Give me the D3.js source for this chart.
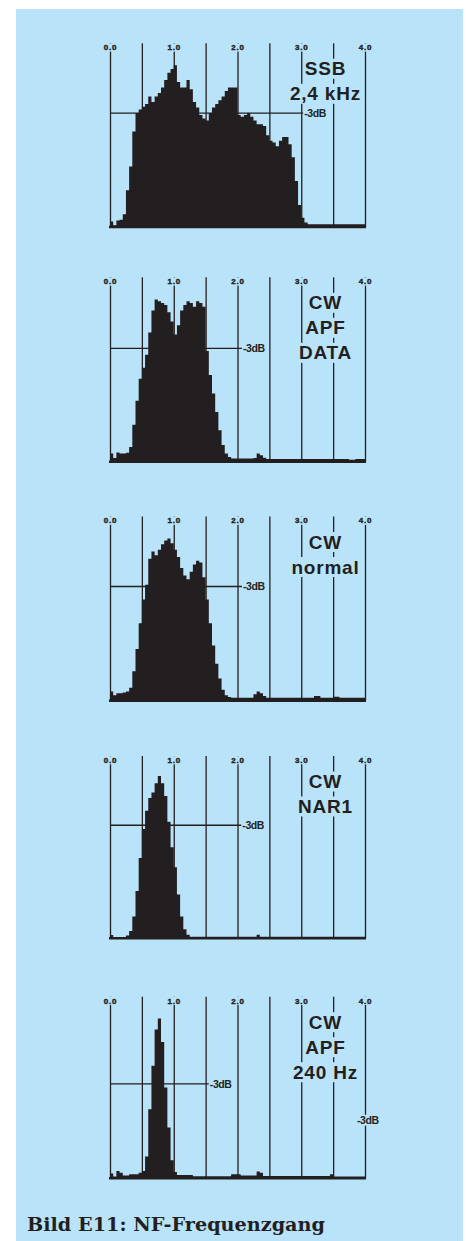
<!DOCTYPE html>
<html>
<head>
<meta charset="utf-8">
<script src="https://cdn.jsdelivr.net/npm/d3@7"></script>
<style>
  body { margin: 0; background: #ffffff; }
  svg { display: block; }
</style>
</head>
<body>
<svg id="chart"></svg>
<script>
// frequency axis (kHz), one grid line every 0.5 kHz, labels on the whole kHz
const gridFreqs = [0, 0.5, 1, 1.5, 2, 2.5, 3, 3.5, 4];
const tickLabels = ["0.0", "1.0", "2.0", "3.0", "4.0"];
const binWidth = 0.05; // kHz per step of the spectrum

// levels in % of plot height, one value per 0.05 kHz bin (0 .. 4 kHz)
const ssbLevels = [
  3, 1, 3.5, 4, 7, 20, 33, 52, 62, 64,
  65.5, 67, 71, 68, 71, 73, 76, 80, 84, 86,
  88, 79, 76, 76, 80, 75, 68, 65, 61, 59,
  58, 62, 65, 67, 69, 71, 74, 76, 76, 76,
  61, 60, 61, 62, 60, 58, 56, 56, 55, 50,
  47, 46, 44, 47, 49, 49, 45, 38, 25, 12,
  5, 2.5, 1.5, 1.5, 1.5, 1.5, 1.5, 1.5, 1.5, 1.5,
  1.5, 1.5, 1.5, 1.5, 1.5, 1.5, 1.5, 1.5, 1.5, 1.5
];
const cwApfDataLevels = [
  4.5, 2, 5, 4.5, 4.5, 4.8, 8, 20, 33, 45,
  51, 58, 70, 82, 88, 87, 86, 85, 81, 76,
  69, 74, 82, 85, 87, 86, 84, 87, 86, 84,
  60, 47, 37, 27, 17, 9, 4.5, 2.5, 1.8, 1.8,
  1.8, 1.8, 1.8, 1.8, 1.8, 2, 4.5, 3.5, 2.2, 1.5,
  1.5, 1.5, 1.5, 1.5, 1.5, 1.5, 1.5, 1.5, 1.5, 1.5,
  1.5, 1.5, 1.5, 1.5, 1.5, 1.5, 1.5, 1.5, 1.5, 1.5,
  1.5, 1.5, 1.5, 1.5, 1.5, 1, 1, 1.5, 1.5, 1.5
];
const cwNormalLevels = [
  5, 3, 4, 4, 4.5, 5, 7, 16, 28, 42,
  55, 63, 77, 81, 79, 82, 85, 87, 88, 85.5,
  82, 78, 72, 68, 66, 70, 74, 76, 75, 67,
  55, 42, 30, 20, 12, 6, 3, 2, 1.6, 1.6,
  1.6, 1.6, 1.6, 1.6, 1.6, 3.5, 5, 4, 2.5, 1.6,
  1.6, 1.6, 1.6, 1.6, 1.6, 1.6, 1.6, 1.6, 1.6, 1.6,
  1.6, 1.6, 1.6, 1.6, 2.5, 2.5, 1.6, 1.6, 1.6, 1.6,
  2.2, 2.2, 1.6, 1.6, 1.6, 1.6, 1.6, 1.6, 1.6, 1.6
];
const cwNar1Levels = [
  1.8, 0.6, 0.6, 0.6, 0.6, 1.5, 4, 12, 26, 44,
  60, 70, 77, 80, 85, 89, 85, 78, 64, 50,
  39, 24, 12, 5, 2, 0.9, 0.9, 0.9, 0.9, 0.9,
  0.9, 0.9, 0.9, 0.9, 0.9, 0.9, 0.9, 0.9, 0.9, 0.9,
  0.9, 0.9, 0.9, 0.9, 0.9, 0.9, 2, 0.9, 0.9, 0.9,
  0.9, 0.9, 0.9, 0.9, 0.9, 0.9, 0.9, 0.9, 0.9, 0.9,
  0.9, 0.9, 0.9, 0.9, 0.9, 0.9, 0.9, 0.9, 0.9, 0.9,
  0.9, 0.9, 0.9, 0.9, 0.9, 0.9, 0.9, 0.9, 0.9, 0.9
];
const cwApf240Levels = [
  2.7, 1, 4, 3, 1.5, 1.5, 2.2, 2.2, 2.2, 3,
  4, 12, 38, 62, 82, 88, 75, 50, 28, 10,
  3.5, 1.8, 1.8, 1.8, 1.8, 1.8, 1.1, 1.1, 1.1, 1.1,
  1.1, 1.1, 1.1, 1.1, 1.1, 1.1, 1.1, 1.1, 2.2, 2.2,
  2.2, 1.5, 1.5, 1.5, 1.5, 1.5, 3.7, 3, 1.3, 1.3,
  1.3, 1.3, 1.3, 1.3, 1.3, 1.3, 1.3, 1.3, 1.3, 1.3,
  1.3, 1.3, 1.3, 1.3, 1.3, 1.3, 1.3, 1.3, 1.3, 2.2,
  1, 1, 1, 1, 1, 1, 1, 1, 1, 1
];

const panelSeries = [ssbLevels, cwApfDataLevels, cwNormalLevels, cwNar1Levels, cwApf240Levels];
const panelLabels = [
  ["SSB", "2,4 kHz"],
  ["CW", "APF", "DATA"],
  ["CW", "normal"],
  ["CW", "NAR1"],
  ["CW", "APF", "240 Hz"]
];
const minus3dbLevel = [62, 61.5, 62, 62, 52];   // % of plot height
const minus3dbEnd = [3.03, 2.07, 2.07, 2.06, 1.55]; // kHz
const minus3dbText = "-3dB";
const titleText = "Bild E11: NF-Frequenzgang";

// ---- layout ----
const W = 468, H = 1241;
const BLUE = "#b9e3f8";
const INK = "#231f20";
const panelTop = [43.3, 277.3, 516.5, 756, 996.7];
const panelBottom = [227, 461.7, 700.7, 938.3, 1178.3];

const svg = d3.select("#chart").attr("width", W).attr("height", H);

svg.append("rect")
  .attr("x", 16).attr("y", 9)
  .attr("width", 447).attr("height", H - 9)
  .attr("fill", BLUE);

const x = d3.scaleLinear().domain([0, 4]).range([110, 365]);

// put a blue box behind a text so the grid lines are knocked out
function knockout(textSel, pad) {
  textSel.each(function () {
    const b = this.getBBox();
    d3.select(this.parentNode).insert("rect", () => this)
      .attr("x", b.x - pad).attr("y", b.y - pad + 1)
      .attr("width", b.width + 2 * pad).attr("height", b.height + 2 * pad - 2)
      .attr("fill", BLUE);
  });
}

function smallBold(sel, size, spacing) {
  return sel
    .attr("fill", INK)
    .style("font-family", "'Liberation Sans', Arial, sans-serif")
    .style("font-size", size + "px")
    .style("font-weight", "bold")
    .style("letter-spacing", spacing + "px");
}

panelSeries.forEach((levels, p) => {
  const top = panelTop[p];
  const bottom = panelBottom[p];
  const y = d3.scaleLinear().domain([0, 100]).range([bottom, top]);
  const g = svg.append("g");

  // grid lines + tick labels through a top axis
  const axis = d3.axisTop(x)
    .tickValues(gridFreqs)
    .tickSize(-(bottom - top))
    .tickFormat(d => Number.isInteger(d) ? tickLabels[d] : "");
  const ag = g.append("g")
    .attr("transform", `translate(0,${top})`)
    .call(axis);
  ag.select(".domain").remove();
  ag.selectAll(".tick line").attr("stroke", INK).attr("stroke-width", 1.3);
  const tickText = smallBold(ag.selectAll(".tick text"), 8, 0.8)
    .attr("y", 6.8)
    .attr("dy", 0)
    .style("stroke", INK)
    .style("stroke-width", "0.4px")
    .filter(function () { return this.textContent !== ""; });
  knockout(tickText, 0.5);

  // -3 dB reference line
  g.append("line")
    .attr("x1", x(0)).attr("x2", x(minus3dbEnd[p]))
    .attr("y1", y(minus3dbLevel[p])).attr("y2", y(minus3dbLevel[p]))
    .attr("stroke", INK).attr("stroke-width", 1.3);

  // spectrum as stepped area
  const pts = levels.map((v, i) => ({ f: i * binWidth, v: v }));
  pts.push({ f: 4, v: levels[levels.length - 1] });
  const area = d3.area()
    .curve(d3.curveStepAfter)
    .x(d => x(d.f))
    .y0(y(0))
    .y1(d => y(d.v));
  g.append("path").datum(pts)
    .attr("d", area)
    .attr("fill", INK);

  // base line
  g.append("line")
    .attr("x1", x(0) - 1).attr("x2", x(4) + 1)
    .attr("y1", bottom).attr("y2", bottom)
    .attr("stroke", INK).attr("stroke-width", 2.5);

  // -3dB label
  const lab = g.append("g");
  const lt = smallBold(lab.append("text"), 10.5, -0.4)
    .attr("x", x(minus3dbEnd[p]) + 1)
    .attr("y", y(minus3dbLevel[p]) + 4)
    .text(minus3dbText);
  knockout(lt, 0.5);

  // mode label block
  const blk = g.append("g");
  const tt = smallBold(blk.selectAll("text").data(panelLabels[p]).join("text"), 19, 0.8)
    .attr("x", x(3.38))
    .attr("y", (d, i) => top + 25 + i * 25 + 7)
    .attr("text-anchor", "middle")
    .text(d => d);
  knockout(tt, 0.5);
});

// stray -3dB label next to the last panel
const extra = svg.append("g");
const y5 = d3.scaleLinear().domain([0, 100]).range([panelBottom[4], panelTop[4]]);
const et = smallBold(extra.append("text"), 10.5, -0.4)
  .attr("x", x(4) - 8)
  .attr("y", y5(32) + 4)
  .text(minus3dbText);
knockout(et, 0.5);

// caption
svg.append("text")
  .attr("x", 27).attr("y", 1231)
  .attr("fill", INK)
  .attr("textLength", 298)
  .attr("lengthAdjust", "spacingAndGlyphs")
  .style("font-family", "'DejaVu Serif', serif")
  .style("font-size", "18px")
  .style("font-weight", "bold")
  .text(titleText);
</script>
</body>
</html>
